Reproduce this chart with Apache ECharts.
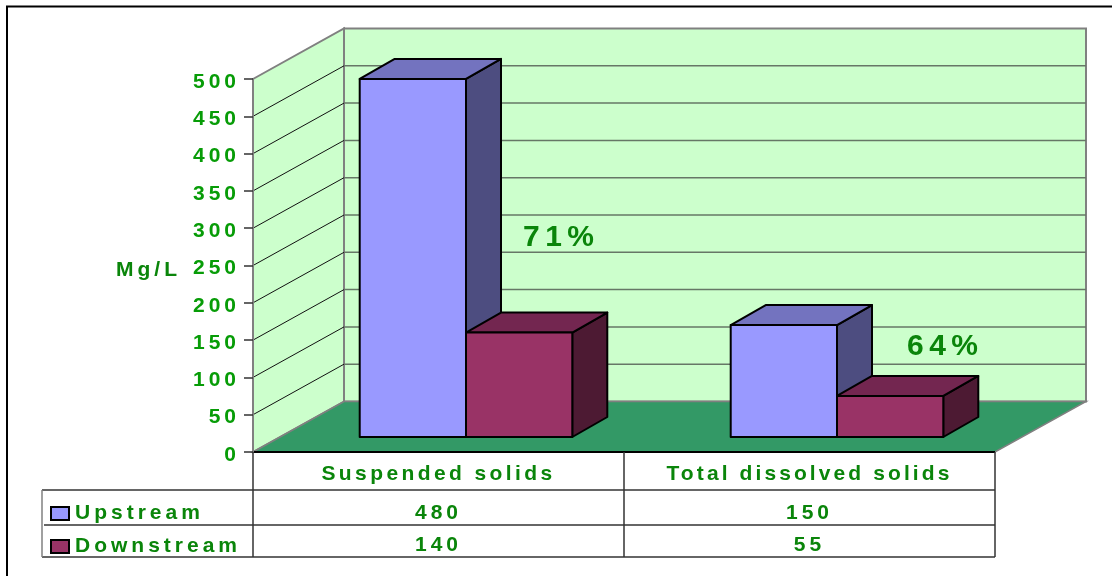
<!DOCTYPE html>
<html><head><meta charset="utf-8">
<style>html,body{margin:0;padding:0;background:#fff}#c{width:1112px;height:576px}</style>
<script src="https://cdn.jsdelivr.net/npm/echarts@6/dist/echarts.min.js"></script>
</head><body><div id="c"></div>
<script>
const categories = ['Suspended solids', 'Total dissolved solids'];
const upstream = [480, 150];
const downstream = [140, 55];
const yTicks = [0, 50, 100, 150, 200, 250, 300, 350, 400, 450, 500];
const percentLabels = ['71%', '64%'];
const axisTitle = 'Mg/L';

const FONT = '"Liberation Sans", Arial, sans-serif';
const G_TABLE = '#0a850a', G_AXIS = '#079c07', G_PCT = '#0a850a';
const WALL_DX = 91, WALL_DY = -50.5;
const BAR_FRONT_DX = 27.5, BAR_FRONT_DY = -15, BAR_DX = 35, BAR_DY = -20;
const BAR_BAND = 0.2865;
const ROWS = [513.5, 545.5];

const rawFill = CanvasRenderingContext2D.prototype.fillText;
CanvasRenderingContext2D.prototype.fillText = function (t, x, y, m) {
  const size = parseFloat((this.font.match(/([\d.]+)px/) || [0, 20])[1]);
  const n = String(t).length;
  this.letterSpacing = size > 24 ? '5.5px' : (n > 18 ? '3.1px' : n > 15 ? '3.4px' : '4px');
  if (m === undefined) rawFill.call(this, t, x, y); else rawFill.call(this, t, x, y, m);
  this.letterSpacing = '0px';
};

const chart = echarts.init(document.getElementById('c'), null, {renderer: 'canvas', width: 1112, height: 576});

function walls(params, api) {
  const c = params.coordSys;
  const b = c.y + c.height, r = c.x + c.width;
  const line = (x1, y1, x2, y2, stroke, w) => ({type: 'line', shape: {x1, y1, x2, y2}, style: {stroke, lineWidth: w}});
  return {type: 'group', children: [
    {type: 'polygon', shape: {points: [[c.x + WALL_DX, c.y + WALL_DY], [r + WALL_DX, c.y + WALL_DY], [r + WALL_DX, b + WALL_DY], [c.x + WALL_DX, b + WALL_DY]]},
      style: {fill: '#CCFFCC', stroke: '#808080', lineWidth: 2}},
    {type: 'polygon', shape: {points: [[c.x, c.y], [c.x + WALL_DX, c.y + WALL_DY], [c.x + WALL_DX, b + WALL_DY], [c.x, b]]},
      style: {fill: '#CCFFCC', stroke: '#808080', lineWidth: 2}},
    {type: 'polygon', shape: {points: [[c.x, b], [c.x + WALL_DX, b + WALL_DY], [r + WALL_DX, b + WALL_DY], [r, b]]},
      style: {fill: '#339966', stroke: '#808080', lineWidth: 1.5}},
    line(c.x, b, r, b, '#000', 2)
  ]};
}
function gridLines(params, api) {
  const c = params.coordSys, v = api.value(1);
  if (v === 0 || v === 500) return null;
  const y = api.coord([0, v])[1];
  return {type: 'group', children: [
    {type: 'line', shape: {x1: c.x, y1: y, x2: c.x + WALL_DX, y2: y + WALL_DY}, style: {stroke: '#111', lineWidth: 1}},
    {type: 'line', shape: {x1: c.x + WALL_DX, y1: y + WALL_DY, x2: c.x + c.width + WALL_DX, y2: y + WALL_DY}, style: {stroke: '#667766', lineWidth: 1.5}}
  ]};
}
function barItem(side, front, top, dark, row) {
  return function (params, api) {
    const cat = api.value(0), val = api.value(1);
    const w = api.size([1, 0])[0] * BAR_BAND;
    const p = api.coord([cat, val]), o = api.coord([cat, 0]);
    const x0 = p[0] + (side === 0 ? -w : 0) + BAR_FRONT_DX, x1 = x0 + w;
    const yB = o[1] + BAR_FRONT_DY;
    const yTop = yB - (o[1] - p[1]);
    const s = {stroke: '#000', lineWidth: 2, lineJoin: 'round'};
    return {type: 'group', children: [
      {type: 'polygon', shape: {points: [[x1, yTop], [x1 + BAR_DX, yTop + BAR_DY], [x1 + BAR_DX, yB + BAR_DY], [x1, yB]]}, style: Object.assign({fill: dark}, s)},
      {type: 'polygon', shape: {points: [[x0, yTop], [x0 + BAR_DX, yTop + BAR_DY], [x1 + BAR_DX, yTop + BAR_DY], [x1, yTop]]}, style: Object.assign({fill: top}, s)},
      {type: 'rect', shape: {x: x0, y: yTop, width: w, height: yB - yTop}, style: Object.assign({fill: front}, s)},
      {type: 'text', style: {text: String(val), x: o[0], y: ROWS[row], align: 'center', verticalAlign: 'middle',
        font: 'bold 21px ' + FONT, fill: G_TABLE}}
    ]};
  };
}
function hline(y, x1, x2, c, w) { return {type: 'line', silent: true, z: 20, shape: {x1, y1: y, x2, y2: y}, style: {stroke: c || '#333', lineWidth: w || 1.5}}; }
function vline(x, y1, y2, c, w) { return {type: 'line', silent: true, z: 20, shape: {x1: x, y1, x2: x, y2}, style: {stroke: c || '#333', lineWidth: w || 1.5}}; }

chart.setOption({
  animation: false,
  backgroundColor: '#fff',
  grid: {left: 253, top: 79, width: 742, height: 373, containLabel: false},
  legend: {
    orient: 'vertical', left: 45, top: 498, itemWidth: 18, itemHeight: 13, itemGap: 12, selectedMode: false,
    textStyle: {fontFamily: FONT, fontWeight: 'bold', fontSize: 21, color: G_TABLE, padding: [0, 0, 0, 1]},
    data: [
      {name: 'Upstream', icon: 'rect', itemStyle: {color: '#9999FF', borderColor: '#000', borderWidth: 2}},
      {name: 'Downstream', icon: 'rect', itemStyle: {color: '#993366', borderColor: '#000', borderWidth: 2}}
    ]
  },
  xAxis: {
    type: 'category', data: categories, z: 10,
    axisLine: {show: false}, axisTick: {show: false},
    axisLabel: {margin: 12, fontFamily: FONT, fontWeight: 'bold', fontSize: 21, color: G_TABLE, interval: 0}
  },
  yAxis: {
    type: 'value', min: 0, max: 500, interval: 50, z: 10,
    splitLine: {show: false},
    axisLine: {show: true, lineStyle: {color: '#808080', width: 2}},
    axisTick: {show: true, length: 9, lineStyle: {color: '#333', width: 1.5}},
    axisLabel: {margin: 13, fontFamily: FONT, fontWeight: 'bold', fontSize: 21, color: G_AXIS, verticalAlign: 'top', lineHeight: 6}
  },
  series: [
    {type: 'custom', name: 'walls', silent: true, z: 1, renderItem: walls, data: [[0, 0]], encode: {x: 0, y: 1}},
    {type: 'custom', name: 'grid', silent: true, z: 2, renderItem: gridLines, data: yTicks.map(v => [0, v]), encode: {x: 0, y: 1}},
    {type: 'custom', name: 'Upstream', silent: true, z: 3, itemStyle: {color: '#9999FF'},
      renderItem: barItem(0, '#9999FF', '#7373BF', '#4D4D80', 0), data: upstream.map((v, i) => [i, v]), encode: {x: 0, y: 1}},
    {type: 'custom', name: 'Downstream', silent: true, z: 4, itemStyle: {color: '#993366'},
      renderItem: barItem(1, '#993366', '#732650', '#4D1A33', 1), data: downstream.map((v, i) => [i, v]), encode: {x: 0, y: 1}}
  ],
  graphic: {elements: [
    hline(6.5, 6, 1112, '#000', 2), vline(7, 6, 576, '#000', 2),
    hline(490, 42, 995), hline(525, 44, 995), hline(557, 42, 995),
    vline(42, 490, 557, '#808080'), vline(253, 452, 557), vline(624, 452, 557), vline(995, 452, 557),
    {type: 'text', z: 20, style: {text: axisTitle, x: 116, y: 270, verticalAlign: 'middle', font: 'bold 21px ' + FONT, fill: G_TABLE}},
    {type: 'text', z: 20, style: {text: percentLabels[0], x: 523, y: 238, verticalAlign: 'middle', font: 'bold 30px ' + FONT, fill: G_PCT}},
    {type: 'text', z: 20, style: {text: percentLabels[1], x: 907, y: 347, verticalAlign: 'middle', font: 'bold 30px ' + FONT, fill: G_PCT}}
  ]}
});
</script></body></html>
